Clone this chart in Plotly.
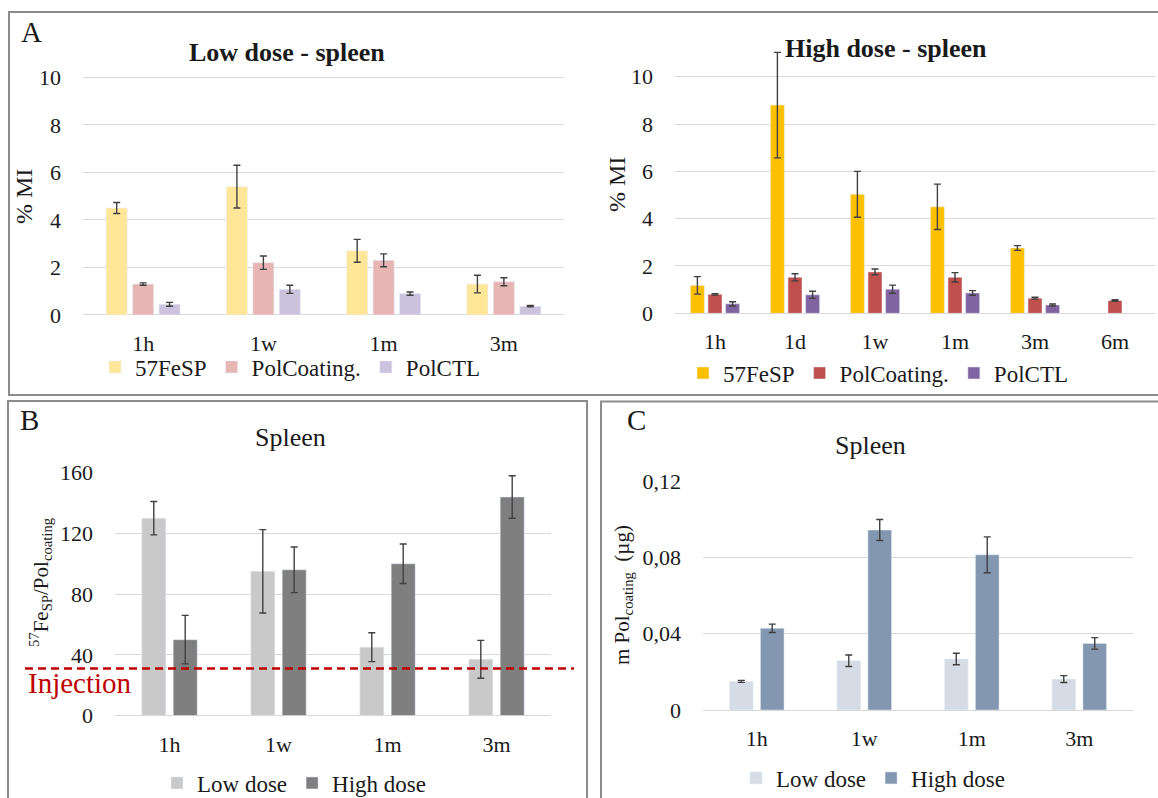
import plotly.graph_objects as go

W, H = 1158, 798

# ---- data -------------------------------------------------------------
low_times = ["1h", "1w", "1m", "3m"]
high_times = ["1h", "1d", "1w", "1m", "3m", "6m"]
series_names = ["57FeSP", "PolCoating.", "PolCTL"]

# % MI, low dose
low_fesp = [4.5, 5.4, 2.7, 1.3]
low_fesp_err = [0.23, 0.9, 0.48, 0.37]
low_coat = [1.3, 2.2, 2.3, 1.4]
low_coat_err = [0.05, 0.28, 0.27, 0.17]
low_ctl = [0.45, 1.08, 0.9, 0.37]
low_ctl_err = [0.08, 0.17, 0.07, 0.03]

# % MI, high dose (no 57FeSP / PolCTL value at 6m)
high_fesp = [1.18, 8.8, 5.03, 4.5, 2.76, None]
high_fesp_err = [0.37, 2.23, 0.97, 0.96, 0.1, None]
high_coat = [0.8, 1.52, 1.75, 1.52, 0.64, 0.54]
high_coat_err = [0.03, 0.15, 0.12, 0.2, 0.04, 0.03]
high_ctl = [0.4, 0.78, 1.02, 0.86, 0.35, None]
high_ctl_err = [0.09, 0.15, 0.17, 0.1, 0.04, None]

# 57Fe_SP / Pol_coating ratio
ratio_times = ["1h", "1w", "1m", "3m"]
ratio_low = [130, 95, 45, 37]
ratio_low_err = [11, 27.5, 9.5, 12.5]
ratio_high = [50, 96, 100, 144]
ratio_high_err = [16, 15, 13, 14]
injection_ratio = 31

# mass of coating polymer (µg)
mass_times = ["1h", "1w", "1m", "3m"]
mass_low = [0.015, 0.0258, 0.0267, 0.0162]
mass_low_err = [0.0005, 0.003, 0.003, 0.0018]
mass_high = [0.0428, 0.0943, 0.0813, 0.0349]
mass_high_err = [0.0022, 0.0055, 0.0094, 0.003]
mass_ticks = [0, 0.04, 0.08, 0.12]
mass_ticktext = ["0", "0,04", "0,08", "0,12"]

# ---- style ------------------------------------------------------------
FONT = "Liberation Serif"
GRID = "#D9D9D9"
ERR = "#404040"
BORDER = "#8C8C8C"
low_colors = ["#FFE699", "#E6B5B4", "#CBC3DD"]
high_colors = ["#FFC000", "#C0504D", "#8064A2"]


def px(x):
    return x / W


def py(y):
    return 1 - y / H


def err(vals):
    return dict(type="data", array=vals, visible=True, color=ERR, thickness=1.4, width=3.5)


fig = go.Figure()

# panel A - three bars per group
bw3, step3 = 0.175, 0.22
for i, (name, vals, errs) in enumerate(zip(series_names, [low_fesp, low_coat, low_ctl],
                                          [low_fesp_err, low_coat_err, low_ctl_err])):
    fig.add_trace(go.Bar(x=low_times, y=vals, name=name, marker_color=low_colors[i],
                         width=bw3, offset=(i - 1) * step3 - bw3 / 2, error_y=err(errs),
                         xaxis="x", yaxis="y", legend="legend"))
for i, (name, vals, errs) in enumerate(zip(series_names, [high_fesp, high_coat, high_ctl],
                                          [high_fesp_err, high_coat_err, high_ctl_err])):
    fig.add_trace(go.Bar(x=high_times, y=vals, name=name, marker_color=high_colors[i],
                         width=bw3, offset=(i - 1) * step3 - bw3 / 2, error_y=err(errs),
                         xaxis="x2", yaxis="y2", legend="legend2"))

# panels B and C - two bars per group
bw2, step2 = 0.22, 0.288
for i, (name, vals, errs, col) in enumerate([("Low dose", ratio_low, ratio_low_err, "#C9C9C9"),
                                             ("High dose", ratio_high, ratio_high_err, "#7F7F7F")]):
    fig.add_trace(go.Bar(x=ratio_times, y=vals, name=name, marker_color=col,
                         width=bw2, offset=(i - 0.5) * step2 - bw2 / 2, error_y=err(errs),
                         xaxis="x3", yaxis="y3", legend="legend3"))
for i, (name, vals, errs, col) in enumerate([("Low dose", mass_low, mass_low_err, "#D6DCE5"),
                                             ("High dose", mass_high, mass_high_err, "#8497B0")]):
    fig.add_trace(go.Bar(x=mass_times, y=vals, name=name, marker_color=col,
                         width=bw2, offset=(i - 0.5) * step2 - bw2 / 2, error_y=err(errs),
                         xaxis="x4", yaxis="y4", legend="legend4"))

tick_font = dict(family=FONT, size=22, color="#1A1A1A")
xcommon = dict(type="category", showgrid=False, ticks="", tickfont=tick_font, automargin=False,
               showline=False, zeroline=False, fixedrange=True, ticklabelstandoff=13)
ycommon = dict(showgrid=True, gridcolor=GRID, gridwidth=1, zeroline=True, zerolinecolor=GRID,
               zerolinewidth=1, ticks="", tickfont=tick_font, showline=False, automargin=False,
               ticklabelstandoff=21, fixedrange=True)


def ydom(y_top, y_zero, vmax, vtop):
    # pixel rows of the zero and vtop values -> domain reaching up to vmax
    ppu = (y_zero - y_top) / vtop
    return [py(y_zero), py(y_zero - ppu * vmax)]


fig.update_layout(
    width=W, height=H, margin=dict(l=0, r=0, t=0, b=0, autoexpand=False),
    paper_bgcolor="white", plot_bgcolor="white", barmode="overlay",
    font=dict(family=FONT, color="#1A1A1A"),
    xaxis=dict(xcommon, domain=[px(83), px(564)], anchor="y", range=[-0.5, 3.5]),
    yaxis=dict(ycommon, domain=ydom(77.3, 315, 11.3, 10), anchor="x", range=[0, 11.3],
               tickvals=[0, 2, 4, 6, 8, 10]),
    xaxis2=dict(xcommon, domain=[px(675), px(1155)], anchor="y2", range=[-0.5, 5.5]),
    yaxis2=dict(ycommon, domain=ydom(76.7, 313.3, 11.3, 10), anchor="x2", range=[0, 11.3],
                tickvals=[0, 2, 4, 6, 8, 10]),
    xaxis3=dict(xcommon, domain=[px(115), px(551)], anchor="y3", range=[-0.5, 3.5]),
    yaxis3=dict(ycommon, domain=[py(715.5), py(472.7)], anchor="x3", range=[0, 160],
                tickvals=[0, 40, 80, 120, 160]),
    xaxis4=dict(xcommon, domain=[px(703), px(1133)], anchor="y4", range=[-0.5, 3.5]),
    yaxis4=dict(ycommon, domain=[py(710), py(481)], anchor="x4", range=[0, 0.12],
                tickvals=mass_ticks, ticktext=mass_ticktext),
    showlegend=True,
)

legend_font = dict(family=FONT, size=23, color="#1A1A1A")
for key, cx, cy in [("legend", 290, 367), ("legend2", 878, 373),
                    ("legend3", 294, 783), ("legend4", 873, 778)]:
    fig.update_layout({key: dict(orientation="h", x=px(cx), y=py(cy), xanchor="center",
                                 yanchor="middle", font=legend_font, bgcolor="rgba(0,0,0,0)",
                                 itemclick=False, itemdoubleclick=False)})

# panel frames
for x0, y0, x1, y1 in [(9, 12, 1170, 395), (8, 401, 587, 810), (601, 401.5, 1170, 810)]:
    fig.add_shape(type="rect", xref="paper", yref="paper", x0=px(x0), y0=py(y0),
                  x1=px(x1), y1=py(y1), line=dict(color=BORDER, width=2))

# injection reference line on panel B
fig.add_shape(type="line", xref="paper", yref="y3", x0=px(25), x1=px(574),
              y0=injection_ratio, y1=injection_ratio,
              line=dict(color="#C00000", width=2.5, dash="8px,5px"))


def note(text, x, y, size, angle=0, color="#1A1A1A"):
    fig.add_annotation(text=text, x=px(x), y=py(y), xref="paper", yref="paper",
                       xanchor="center", yanchor="middle", showarrow=False, textangle=angle,
                       font=dict(family=FONT, size=size, color=color))


note("A", 31, 32, 29)
note("B", 30, 420, 29)
note("C", 636, 420, 29)
note("<b>Low dose - spleen</b>", 287, 52, 26)
note("<b>High dose - spleen</b>", 886, 49, 26)
note("Spleen", 290, 437, 26)
note("Spleen", 870, 445, 26)
note("% MI", 24, 197, 24, -90)
note("% MI", 617, 185, 24, -90)
note("<sup>57</sup>Fe<sub>SP</sub>/Pol<sub>coating</sub>", 40, 582, 21, -90)
note("m Pol<sub>coating</sub>  (µg)", 623, 595, 21, -90)
note("Injection", 80, 683, 29, color="#C00000")

fig.write_html("out.html", config={"displayModeBar": False},
               post_script="document.body.style.margin='0';")
